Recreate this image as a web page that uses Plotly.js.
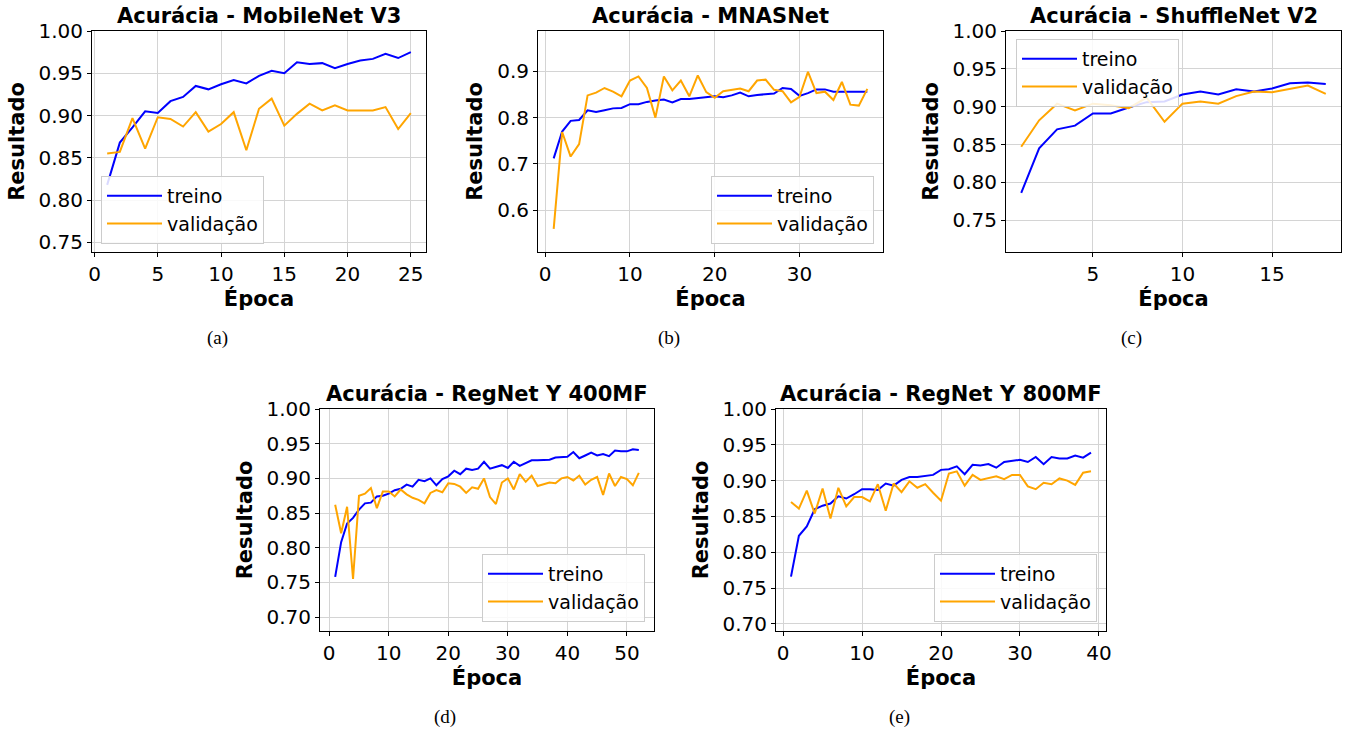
<!DOCTYPE html>
<html>
<head>
<meta charset="utf-8">
<script src="https://cdn.plot.ly/plotly-3.0.1.min.js"></script>
<style>
  html, body { margin: 0; padding: 0; background: #ffffff; }
  #chart { width: 1347px; height: 730px; }
</style>
</head>
<body>
<div id="chart"></div>
<script>
// ---------------- data ----------------
const seriesNames = ["treino", "validação"];
const panelTitles = [
  "Acurácia - MobileNet V3",
  "Acurácia - MNASNet",
  "Acurácia - ShuffleNet V2",
  "Acurácia - RegNet Y 400MF",
  "Acurácia - RegNet Y 800MF"
];
const captions = ["(a)", "(b)", "(c)", "(d)", "(e)"];

const mobileTrain = [0.818,0.868,0.886,0.905,0.903,0.917,0.922,0.935,0.931,0.937,0.942,0.938,0.947,0.953,0.950,0.963,0.961,0.962,0.956,0.961,0.965,0.967,0.973,0.968,0.975];
const mobileVal   = [0.855,0.857,0.897,0.861,0.898,0.896,0.887,0.904,0.881,0.890,0.904,0.859,0.908,0.920,0.888,0.902,0.914,0.906,0.912,0.906,0.906,0.906,0.910,0.884,0.903];

const mnasTrain = [0.712,0.770,0.793,0.795,0.816,0.812,0.816,0.820,0.821,0.829,0.829,0.834,0.837,0.839,0.833,0.840,0.840,0.842,0.845,0.846,0.844,0.848,0.854,0.846,0.849,0.851,0.852,0.864,0.862,0.847,0.853,0.861,0.861,0.856,0.856,0.856,0.856,0.856];
const mnasVal   = [0.560,0.769,0.716,0.743,0.848,0.854,0.864,0.856,0.846,0.880,0.889,0.864,0.800,0.889,0.859,0.880,0.846,0.891,0.855,0.843,0.857,0.860,0.863,0.857,0.880,0.882,0.860,0.857,0.833,0.845,0.899,0.853,0.856,0.838,0.877,0.828,0.826,0.862];

const shuffleTrain = [0.786,0.845,0.870,0.875,0.891,0.891,0.899,0.906,0.907,0.916,0.920,0.916,0.923,0.920,0.924,0.931,0.932,0.930];
const shuffleVal   = [0.847,0.882,0.904,0.895,0.904,0.902,0.898,0.912,0.880,0.904,0.907,0.904,0.914,0.920,0.919,0.924,0.928,0.917];

const reg400Train = [0.758,0.808,0.835,0.843,0.855,0.864,0.865,0.874,0.875,0.878,0.883,0.885,0.891,0.888,0.898,0.896,0.900,0.890,0.899,0.903,0.911,0.906,0.914,0.912,0.914,0.924,0.914,0.916,0.919,0.915,0.924,0.918,0.922,0.926,0.926,0.927,0.927,0.930,0.930,0.931,0.938,0.929,0.933,0.937,0.933,0.935,0.932,0.940,0.939,0.939,0.942,0.941];
const reg400Val   = [0.862,0.821,0.859,0.755,0.875,0.878,0.886,0.857,0.881,0.881,0.874,0.884,0.877,0.872,0.869,0.864,0.879,0.883,0.880,0.893,0.892,0.888,0.879,0.887,0.885,0.900,0.873,0.863,0.894,0.900,0.884,0.906,0.895,0.904,0.889,0.892,0.894,0.893,0.900,0.902,0.897,0.904,0.891,0.898,0.902,0.876,0.907,0.889,0.902,0.899,0.890,0.908];

const reg800Train = [0.766,0.823,0.836,0.860,0.865,0.868,0.878,0.875,0.881,0.888,0.888,0.887,0.896,0.893,0.901,0.905,0.905,0.907,0.908,0.915,0.916,0.920,0.909,0.922,0.921,0.923,0.918,0.926,0.927,0.929,0.926,0.933,0.923,0.933,0.931,0.931,0.935,0.932,0.939];
const reg800Val   = [0.870,0.861,0.886,0.854,0.889,0.847,0.890,0.864,0.877,0.877,0.871,0.895,0.858,0.896,0.884,0.899,0.890,0.895,0.883,0.872,0.910,0.913,0.893,0.908,0.901,0.903,0.906,0.902,0.908,0.908,0.892,0.888,0.897,0.895,0.903,0.900,0.894,0.911,0.913];

// ---------------- layout helpers ----------------
const W = 1347, H = 730;
const px = (a, b) => [a / W, b / W];
const py = (top, bottom) => [1 - bottom / H, 1 - top / H];

const panels = [
  { train: mobileTrain,  val: mobileVal,  xd: px(92, 426),   yd: py(31, 252),  xr: [-0.2, 26.2],  yr: [0.7386, 1.0],  xdt: 5,  ydt: 0.05, yfmt: ".2f",
    leg: { x: 101 / W, y: 1 - 244 / H, xanchor: "left", yanchor: "bottom" } },
  { train: mnasTrain,    val: mnasVal,    xd: px(538, 883),  yd: py(31, 252),  xr: [-0.85, 39.85], yr: [0.510, 0.987], xdt: 10, ydt: 0.1,  yfmt: ".1f",
    leg: { x: 874 / W, y: 1 - 244 / H, xanchor: "right", yanchor: "bottom" } },
  { train: shuffleTrain, val: shuffleVal, xd: px(1006, 1341), yd: py(31, 252), xr: [0.15, 18.85], yr: [0.708, 1.0],   xdt: 5,  ydt: 0.05, yfmt: ".2f",
    leg: { x: 1016 / W, y: 1 - 39 / H, xanchor: "left", yanchor: "top" } },
  { train: reg400Train,  val: reg400Val,  xd: px(320, 654),  yd: py(409, 631), xr: [-1.55, 54.55], yr: [0.680, 1.0],  xdt: 10, ydt: 0.05, yfmt: ".2f",
    leg: { x: 645 / W, y: 1 - 622 / H, xanchor: "right", yanchor: "bottom" } },
  { train: reg800Train,  val: reg800Val,  xd: px(776, 1106), yd: py(409, 631), xr: [-0.9, 40.9],   yr: [0.690, 1.0],  xdt: 10, ydt: 0.05, yfmt: ".2f",
    leg: { x: 1097 / W, y: 1 - 622 / H, xanchor: "right", yanchor: "bottom" } }
];

const colors = ["#0000ff", "#ffa500"];
const tickFont = { family: "DejaVu Sans", size: 20, color: "#000000" };
const titleFont = { family: "DejaVu Sans", size: 21, color: "#000000", weight: "bold" };
const axisTitleFont = { family: "DejaVu Sans", size: 21, color: "#000000", weight: "bold" };

const data = [];
const layout = {
  width: W, height: H,
  margin: { l: 0, r: 0, t: 0, b: 0 },
  paper_bgcolor: "#ffffff",
  plot_bgcolor: "#ffffff",
  showlegend: true,
  annotations: []
};

panels.forEach((p, i) => {
  const n = i + 1;
  const xa = n === 1 ? "x" : "x" + n;
  const ya = n === 1 ? "y" : "y" + n;
  const legName = n === 1 ? "legend" : "legend" + n;
  const epochs = p.train.map((_, k) => k + 1);

  [p.train, p.val].forEach((vals, s) => {
    data.push({
      type: "scatter", mode: "lines",
      x: epochs, y: vals,
      xaxis: xa, yaxis: ya,
      name: seriesNames[s],
      legend: legName,
      line: { color: colors[s], width: 2 },
      hoverinfo: "x+y"
    });
  });

  const axCommon = {
    showline: true, linecolor: "#000000", linewidth: 1, mirror: true,
    ticks: "outside", ticklen: 4, tickwidth: 1, tickcolor: "#000000",
    showgrid: true, gridcolor: "#d4d4d4", gridwidth: 1,
    zeroline: false, tickfont: tickFont, automargin: false
  };

  layout[n === 1 ? "xaxis" : "xaxis" + n] = Object.assign({}, axCommon, {
    domain: p.xd, range: p.xr, anchor: ya,
    tick0: 0, dtick: p.xdt,
    title: { text: "Época", font: axisTitleFont, standoff: 6 }
  });
  layout[n === 1 ? "yaxis" : "yaxis" + n] = Object.assign({}, axCommon, {
    domain: p.yd, range: p.yr, anchor: xa,
    tick0: 0, dtick: p.ydt, tickformat: p.yfmt,
    title: { text: "Resultado", font: axisTitleFont, standoff: 8 }
  });

  layout[legName] = Object.assign({}, p.leg, {
    bgcolor: "rgba(255,255,255,0.85)",
    bordercolor: "#cccccc", borderwidth: 1,
    font: { family: "DejaVu Sans", size: 19, color: "#000000" },
    itemwidth: 55,
    tracegroupgap: 0
  });

  const cx = (p.xd[0] + p.xd[1]) / 2;
  layout.annotations.push({
    text: panelTitles[i], xref: "paper", yref: "paper",
    x: cx, y: p.yd[1] + 15 / H, xanchor: "center", yanchor: "middle",
    showarrow: false, font: titleFont
  });
  layout.annotations.push({
    text: captions[i], xref: "paper", yref: "paper",
    x: cx - 42 / W, y: p.yd[0] - 86 / H, xanchor: "center", yanchor: "middle",
    showarrow: false, font: { family: "Liberation Serif", size: 19, color: "#000000" }
  });
});

Plotly.newPlot("chart", data, layout, { displayModeBar: false, responsive: false, staticPlot: true });
</script>
</body>
</html>
